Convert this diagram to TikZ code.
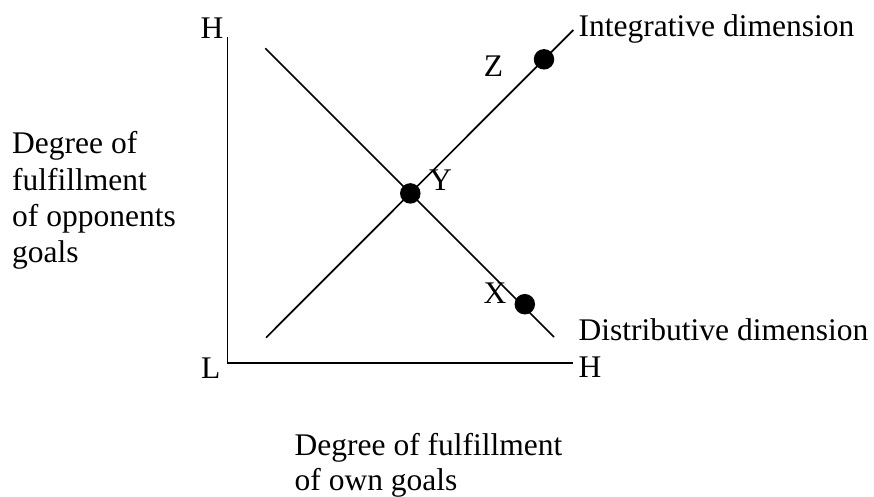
\documentclass[tikz,border=0pt]{standalone}
\usepackage{fontspec}
\setmainfont{Liberation Serif}
\begin{document}
\begin{tikzpicture}[x=1pt,y=-1pt,
  txt/.style={inner sep=0pt,anchor=base west,font=\fontsize{31.5}{36}\selectfont},
  lbl/.style={inner sep=0pt,anchor=base,font=\fontsize{31.5}{36}\selectfont},
  dot/.style={circle,fill=black,inner sep=0pt,minimum size=20.5pt},
  axis/.style={line width=1.9pt},
  dim/.style={line width=1.7pt}]
\useasboundingbox (0,0) rectangle (874,496);
% axes
\coordinate (top) at (227.5,37);
\coordinate (origin) at (227.5,363.3);
\coordinate (right) at (573,363.3);
\draw[axis] (top) -- (origin) -- (right);
% dimension lines
\coordinate (d1) at (265.3,48.3);
\coordinate (d2) at (554,337);
\coordinate (i1) at (266,337.7);
\coordinate (i2) at (573.3,30);
\draw[dim] (d1) -- (d2);
\draw[dim] (i1) -- (i2);
% points
\node[dot] (Y) at (410.3,193.4) {};
\node[dot] (Z) at (544,59.3) {};
\node[dot] (X) at (524.8,304.2) {};
\node[lbl] (Zl) at (493.5,76) {Z};
\node[lbl] (Yl) at (440.5,190.7) {Y};
\node[lbl] (Xl) at (495,303) {X};
% axis labels
\node[txt] (Htop) at (200.5,38) {H};
\node[txt] (Lo) at (201,378) {L};
\node[txt] (Hright) at (578.5,377) {H};
\node[txt] (integ) at (578.5,36.7) {Integrative dimension};
\node[txt] (distr) at (578.5,340) {Distributive dimension};
% left text
\node[txt] (l1) at (12,153) {Degree of};
\node[txt] (l2) at (12,190) {fulfillment};
\node[txt] (l3) at (12,226) {of opponents};
\node[txt] (l4) at (12,262) {goals};
% bottom text
\node[txt] (b1) at (294.5,455) {Degree of fulfillment};
\node[txt] (b2) at (294.5,490.7) {of own goals};
\end{tikzpicture}
\end{document}
